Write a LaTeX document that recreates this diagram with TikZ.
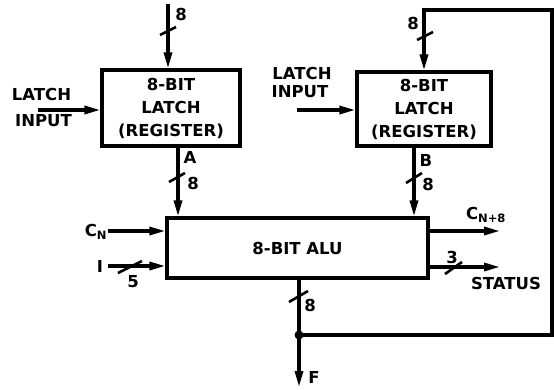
\documentclass[tikz,border=0pt]{standalone}
\usepackage{fontspec}
\setmainfont{DejaVu Sans}
\usetikzlibrary{arrows.meta,calc}
\tikzset{
  wire/.style={line width=3.2pt},
  arr/.style={wire,-{Triangle[length=16pt,width=8pt]}},
  blk/.style={draw,line width=3.2pt,align=center,inner sep=0pt,
    font=\fontsize{16.5}{23}\selectfont\bfseries},
  lbl/.style={inner sep=0pt,font=\fontsize{16.5}{18}\selectfont\bfseries},
  slashmark/.style={line width=2.6pt},
  dot/.style={circle,fill,inner sep=0pt,minimum size=9pt}
}
\begin{document}
\begin{tikzpicture}[x=1pt,y=-1pt]
\useasboundingbox (0,0) rectangle (554,389);
% blocks
\node[blk,minimum width=138pt,minimum height=76pt] (la) at (171,108) {8-BIT\\LATCH\\(REGISTER)};
\node[blk,minimum width=134pt,minimum height=74pt] (lb) at (424,109) {8-BIT\\LATCH\\(REGISTER)};
\node[blk,minimum width=261pt,minimum height=60pt] (alu) at (297.5,248) {8-BIT ALU};
% free ends
\coordinate (ta) at (168,4);
\coordinate (lia) at (38,110);
\coordinate (lib) at (297,110);
\coordinate (cn) at (108,231);
\coordinate (iin) at (108,266);
\coordinate (cout) at (500,231);
\coordinate (sout) at (500,267);
\coordinate (j) at (299,335);
\coordinate (fout) at (299,387);
\coordinate (fr) at (552,10);
% connectors
\draw[arr] (ta) -- (ta |- la.north);
\draw[arr] (lia) -- (lia -| la.west);
\draw[arr] (lib) -- (lib -| lb.west);
\draw[arr] ([xshift=7pt]la.south) -- ([xshift=7pt]la.south |- alu.north);
\draw[arr] ([xshift=-10pt]lb.south) -- ([xshift=-10pt]lb.south |- alu.north);
\draw[arr] (cn) -- (cn -| alu.west);
\draw[arr] (iin) -- (iin -| alu.west);
\draw[arr] (cout -| alu.east) -- (cout);
\draw[arr] (sout -| alu.east) -- (sout);
\draw[wire] (j |- alu.south) -- (j);
\draw[arr] (j) -- (fout);
\draw[arr] (j) -- (j -| fr) -- (fr) -- (fr -| lb.north) -- (lb.north);
\node[dot] (jd) at (j) {};
% bus slashes
\draw[slashmark] (160,35) -- ++(16,-8);
\draw[slashmark] (169,182) -- ++(16,-9);
\draw[slashmark] (406,183) -- ++(16,-10);
\draw[slashmark] (417,40) -- ++(16,-8);
\draw[slashmark] (118,273) -- ++(24,-12);
\draw[slashmark] (445,274) -- ++(17,-12);
\draw[slashmark] (289,302) -- ++(19,-11);
% labels
\node[lbl] (l8a) at (181,14) {8};
\node[lbl] (llat) at (41.5,94) {LATCH};
\node[lbl] (linp) at (43.5,121) {INPUT};
\node[lbl] (rlat) at (302,73) {LATCH};
\node[lbl] (rinp) at (300,92) {INPUT};
\node[lbl] (lA) at (190,157) {A};
\node[lbl] (l8b) at (193,183) {8};
\node[lbl] (lB) at (426,160) {B};
\node[lbl] (l8c) at (428,184) {8};
\node[lbl] (l8d) at (413,23) {8};
\node[lbl] (lcn) at (96,232) {C\textsubscript{N}};
\node[lbl] (lI) at (100,266) {I};
\node[lbl] (l5) at (133,282) {5};
\node[lbl] (lcn8) at (486,215) {C\textsubscript{N+8}};
\node[lbl] (l3) at (452,257) {3};
\node[lbl] (lst) at (506,283) {STATUS};
\node[lbl] (l8e) at (310,305) {8};
\node[lbl] (lF) at (314,377) {F};
\end{tikzpicture}
\end{document}
